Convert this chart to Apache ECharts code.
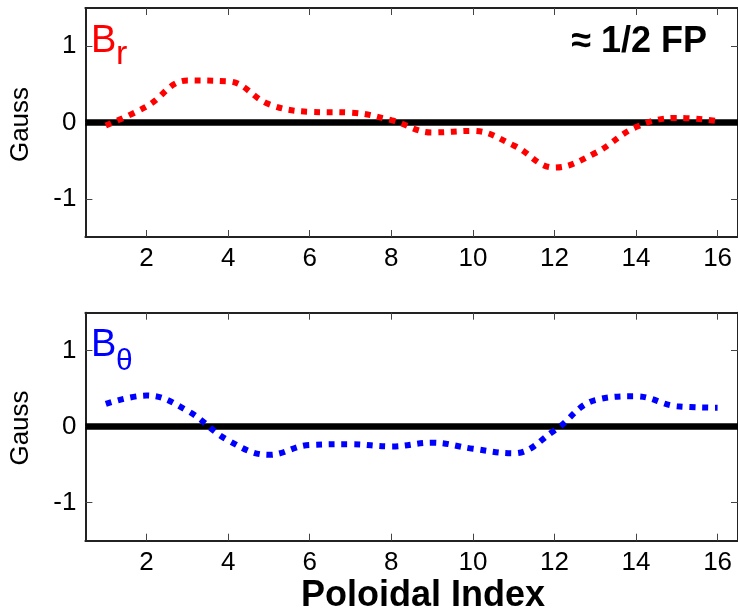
<!DOCTYPE html>
<html>
<head>
<meta charset="utf-8">
<script src="https://cdn.jsdelivr.net/npm/echarts@6/dist/echarts.min.js"></script>
<style>
  html, body { margin: 0; padding: 0; background: #fff; }
  #main { width: 738px; height: 613px; }
</style>
</head>
<body>
<div id="main"></div>
<script>
  // field perturbation read at each poloidal probe (Gauss)
  var poloidalIndex = [1, 2, 3, 4, 5, 6, 7, 8, 9, 10, 11, 12, 13, 14, 15, 16];
  var brValues = [-0.04, 0.21, 0.55, 0.54, 0.24, 0.14, 0.13, 0.03, -0.13, -0.11, -0.30, -0.59, -0.40, -0.06, 0.06, 0.02];
  var bThetaValues = [0.30, 0.41, 0.21, -0.18, -0.37, -0.24, -0.23, -0.26, -0.21, -0.29, -0.35, -0.05, 0.35, 0.40, 0.27, 0.25];
  var xTicks = [2, 4, 6, 8, 10, 12, 14, 16];
  var yTicks = [-1, 0, 1];

  var fontFamily = '"Liberation Sans", Arial, sans-serif';

  function pairs(vals) {
    return poloidalIndex.map(function (x, i) { return [x, vals[i]]; });
  }

  function xAxis(grid, pos) {
    return {
      type: 'value', gridIndex: grid, position: pos,
      min: 0.5, max: 16.5,
      axisLine: { onZero: false, lineStyle: { color: '#222', width: 2 } },
      axisTick: { inside: true, length: 7, customValues: xTicks, lineStyle: { color: '#444', width: 1 } },
      axisLabel: { show: pos === 'bottom', customValues: xTicks, fontSize: 26, margin: 9, color: '#000', fontFamily: fontFamily },
      splitLine: { show: false }
    };
  }

  function yAxis(grid, pos) {
    return {
      type: 'value', gridIndex: grid, position: pos,
      min: -1.5, max: 1.5,
      axisLine: { onZero: false, lineStyle: { color: '#222', width: 2 } },
      axisTick: { inside: true, length: 7, customValues: yTicks, lineStyle: { color: '#444', width: 1 } },
      axisLabel: { show: pos === 'left', customValues: yTicks, fontSize: 26, margin: 9, color: '#000', fontFamily: fontFamily },
      splitLine: { show: false }
    };
  }

  function dotted(name, vals, color, axis) {
    return {
      name: name, type: 'line', xAxisIndex: axis, yAxisIndex: axis,
      data: pairs(vals),
      symbol: 'none', smooth: 0.4,
      lineStyle: { color: color, width: 6, type: [6, 6.7], cap: 'butt' },
      markLine: {
        silent: true, z: 1, symbol: ['none', 'none'],
        label: { show: false },
        lineStyle: { color: '#000', width: 6.5, type: 'solid' },
        data: [{ yAxis: 0 }]
      }
    };
  }

  function txt(x, y, text, size, color) {
    return {
      type: 'text', x: x, y: y, silent: true,
      style: { text: text, font: size + 'px ' + fontFamily, fill: color, textAlign: 'left', textVerticalAlign: 'middle' }
    };
  }

  var myChart = echarts.init(document.getElementById('main'));
  myChart.setOption({
    animation: false,
    grid: [
      { left: 85.4, top: 8, width: 654.4, height: 229 },
      { left: 85.4, top: 312.7, width: 654.4, height: 228 }
    ],
    xAxis: [xAxis(0, 'bottom'), xAxis(1, 'bottom'), xAxis(0, 'top'), xAxis(1, 'top')],
    yAxis: [yAxis(0, 'left'), yAxis(1, 'left'), yAxis(0, 'right'), yAxis(1, 'right')],
    series: [
      dotted('Br', brValues, '#ff0000', 0),
      dotted('Btheta', bThetaValues, '#0000ff', 1)
    ],
    graphic: [
      txt(91, 42, 'B', 38, '#ff0000'),
      txt(116, 55, 'r', 34, '#ff0000'),
      txt(91, 346, 'B', 38, '#0000ff'),
      txt(116, 362, 'θ', 30, '#0000ff'),
      {
        type: 'text', x: 707, y: 42, silent: true,
        style: { text: '≈ 1/2 FP', font: 'bold 36px ' + fontFamily, fill: '#000', textAlign: 'right', textVerticalAlign: 'middle' }
      },
      {
        type: 'text', x: 20.5, y: 124.5, rotation: Math.PI / 2, silent: true,
        style: { text: 'Gauss', font: '26px ' + fontFamily, fill: '#000', textAlign: 'center', textVerticalAlign: 'middle' }
      },
      {
        type: 'text', x: 20.5, y: 428, rotation: Math.PI / 2, silent: true,
        style: { text: 'Gauss', font: '26px ' + fontFamily, fill: '#000', textAlign: 'center', textVerticalAlign: 'middle' }
      },
      {
        type: 'text', x: 423, y: 596, silent: true,
        style: { text: 'Poloidal Index', font: 'bold 36px ' + fontFamily, fill: '#000', textAlign: 'center', textVerticalAlign: 'middle' }
      }
    ]
  });
</script>
</body>
</html>
